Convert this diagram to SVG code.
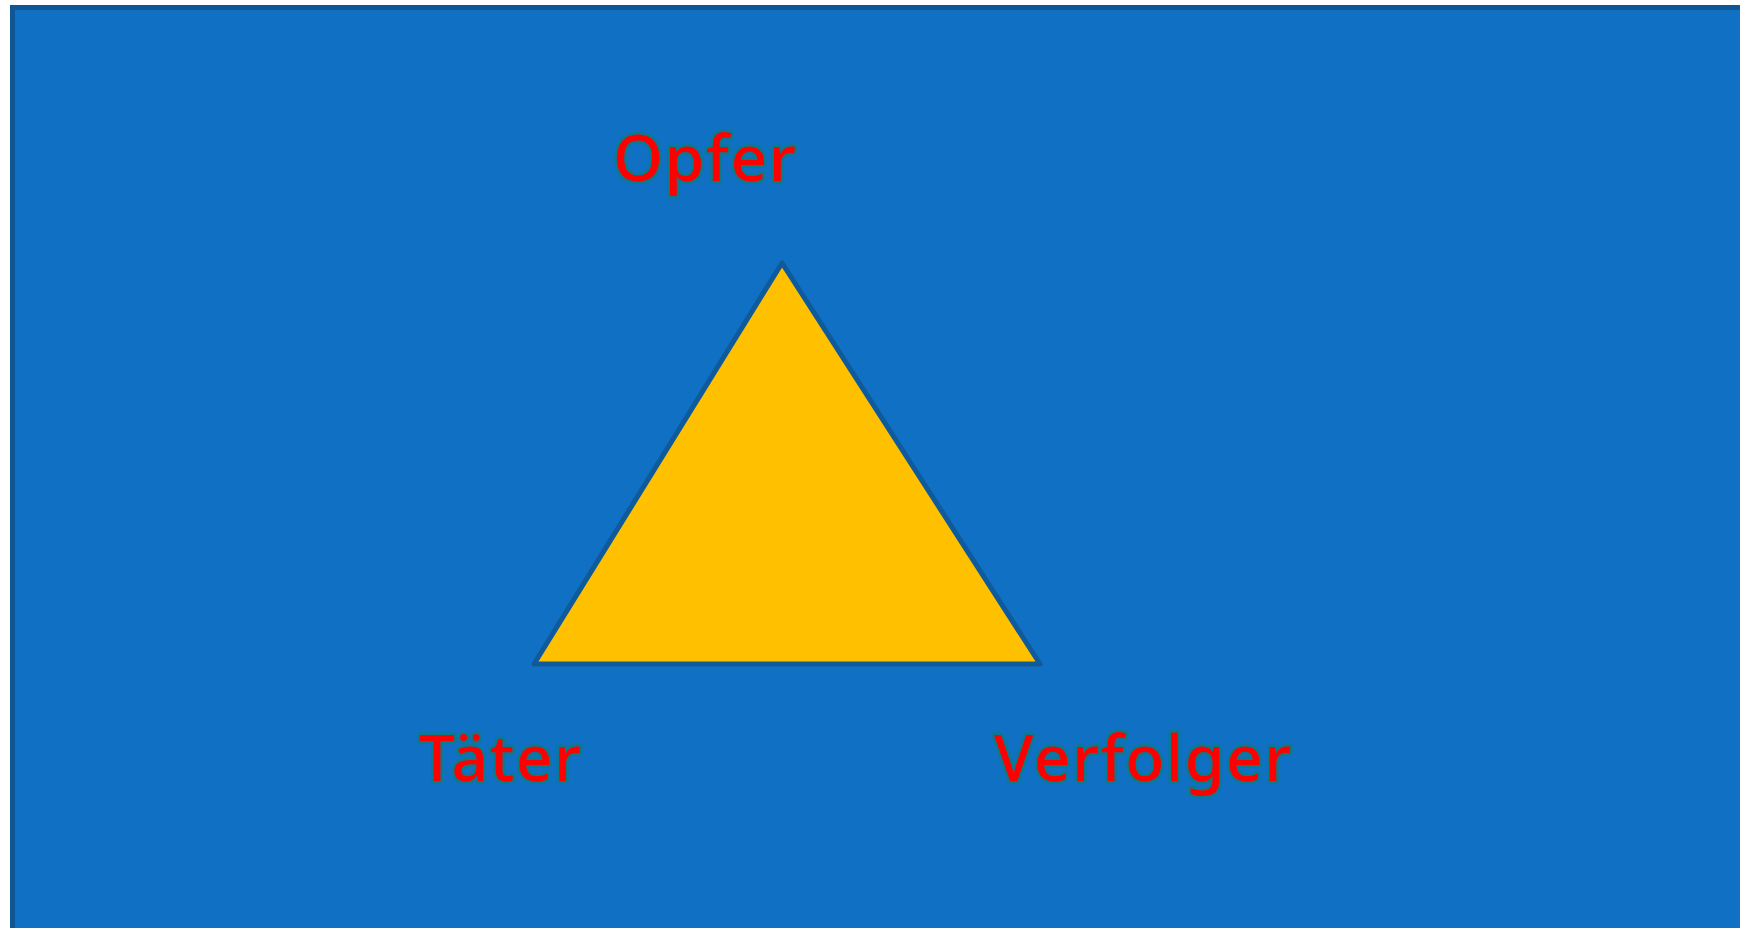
<svg xmlns="http://www.w3.org/2000/svg" width="1740" height="928" viewBox="0 0 1740 928">
<style>
.lbl{font-family:"Noto Sans","Liberation Sans",Arial,sans-serif;font-size:64px;font-weight:500;fill:#ff0000;stroke:#0b7a8e;stroke-width:5;stroke-linejoin:round;paint-order:stroke fill;letter-spacing:1.6px}
</style>
<rect x="0" y="0" width="1740" height="928" fill="#ffffff"/>
<g id="background">
<rect x="12.5" y="7.5" width="1730" height="923" fill="#1070c4" stroke="#0f5794" stroke-width="5"/>
</g>
<g id="triangle">
<polygon points="782,263 534,664 1040,664" fill="#ffc000" stroke="#0f5a9a" stroke-width="5" stroke-linejoin="round"/>
</g>
<g id="opfer"><text class="lbl" x="613" y="181">Opfer</text></g>
<g id="taeter"><text class="lbl" x="419" y="781">Täter</text></g>
<g id="verfolger"><text class="lbl" x="994" y="781">Verfolger</text></g>
<g id="connectors"></g>
</svg>
